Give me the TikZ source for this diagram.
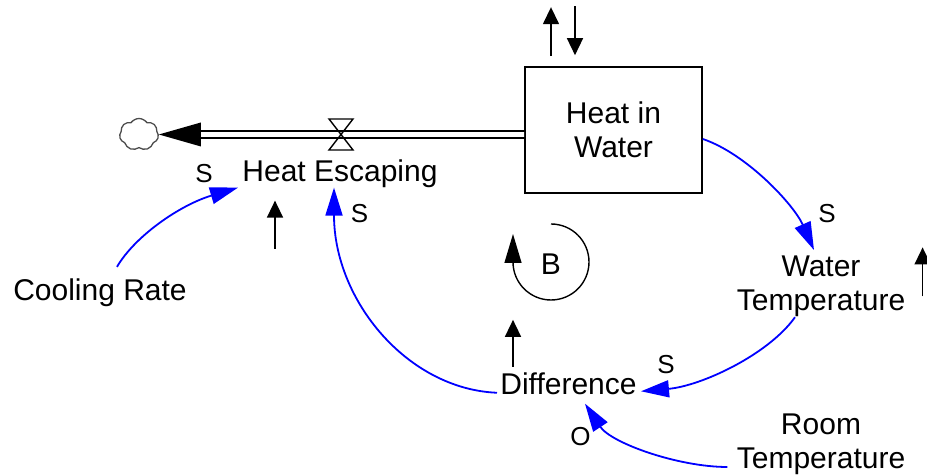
\documentclass[tikz,border=0pt]{standalone}
\usepackage{fontspec}
\setmainfont{Liberation Sans}
\usetikzlibrary{arrows.meta,calc,shapes.symbols}
\begin{document}
\begin{tikzpicture}[x=0.5pt,y=0.5pt,
  lbl/.style={font=\fontsize{15}{17}\selectfont, inner sep=0pt},
  lbltwo/.style={font=\fontsize{15}{17}\selectfont, inner sep=0pt, align=center},
  pol/.style={font=\fontsize{13}{15}\selectfont, inner sep=0pt},
  stock/.style={draw, line width=0.8pt, minimum width=88.5pt, minimum height=63pt, align=center, font=\fontsize{15}{17}\selectfont},
  link/.style={draw=blue, line width=0.9pt, -{Triangle[length=14pt,width=8.5pt]}},
  side/.style={line width=0.75pt, -{Triangle[length=8.5pt,width=8pt]}},
  pipe/.style={double, double distance=2.3pt, line width=1pt},
  loopar/.style={line width=0.7pt, -{Triangle[length=14.5pt,width=8.5pt]}},
]
\useasboundingbox (0,0) rectangle (927,475);

% nodes
\node[stock] (hw) at (613.5,345) {Heat in\\Water};
\node[lbl, anchor=base] (he) at (340,293) {Heat Escaping};
\node[lbl, anchor=base] (cr) at (100,174) {Cooling Rate};
\node[lbltwo] (wt) at (821,188.6) {Water\\Temperature};
\node[lbl, anchor=base] (df) at (568.5,80) {Difference};
\node[lbltwo] (rt) at (821,30.6) {Room\\Temperature};
\node[draw=black!70, line width=0.65pt, cloud, cloud puffs=7, cloud puff arc=110, minimum width=19.5pt, minimum height=16pt, inner sep=0pt] (cloud) at (139,340.5) {};
\coordinate (vl) at (341,340.5);

% flow pipe
\draw[pipe] ($(hw.west)+(0,-4.5)$) -- ($(cloud.east)+(42,0)$);
\fill (cloud.east) -- ++(42,12) -- ++(0,-24) -- cycle;
\draw[line width=0.7pt] ($(vl)+(-12,15.5)$) -- ++(24,0) -- ++(-24,-31) -- ++(24,0) -- cycle;

% side arrows
\draw[side] ($(hw.north)+(-62.5,10)$) -- ++(0,49);
\draw[side] ($(hw.north)+(-38.5,60)$) -- ++(0,-49);
\draw[side] ($(he.south)+(-65,-60)$) -- ++(0,48);
\draw[side] ($(wt.east)+(17,-10)$) -- ++(0,49);
\draw[side] ($(df.north)+(-55.5,6)$) -- ++(0,47);

% loop
\draw[loopar] (551,251) arc[start angle=90, end angle=-180, radius=38] -- ++(0,28);
\node[lbl] (B) at (551,211) {B};

% polarities
\node[pol] (s1) at (204,301.5) {S};
\node[pol] (s2) at (359.5,261.5) {S};
\node[pol] (s3) at (827,261.5) {S};
\node[pol] (s4) at (666,110) {S};
\node[pol] (o1) at (580.5,38) {O};

% links
\draw[link] ($(cr.north)+(17,12)$) .. controls (135,239) and (180,270) .. ($(he.south west)+(-4,1)$);
\draw[link] ($(df.west)+(-3,-8.5)$) .. controls (407,86) and (334,175) .. ($(he.south)+(-6,1)$);
\draw[link] ($(hw.east)+(0,-9)$) .. controls (747,321) and (794,270) .. ($(wt.north)+(-7,5.5)$);
\draw[link] ($(wt.south)+(-26,0)$) .. controls (768,120) and (701,89) .. ($(df.east)+(4,-7)$);
\draw[link] ($(rt.west)+(-9,-22.6)$) .. controls (678,8) and (611,32) .. ($(df.south)+(16.5,-8)$);
\end{tikzpicture}
\end{document}
